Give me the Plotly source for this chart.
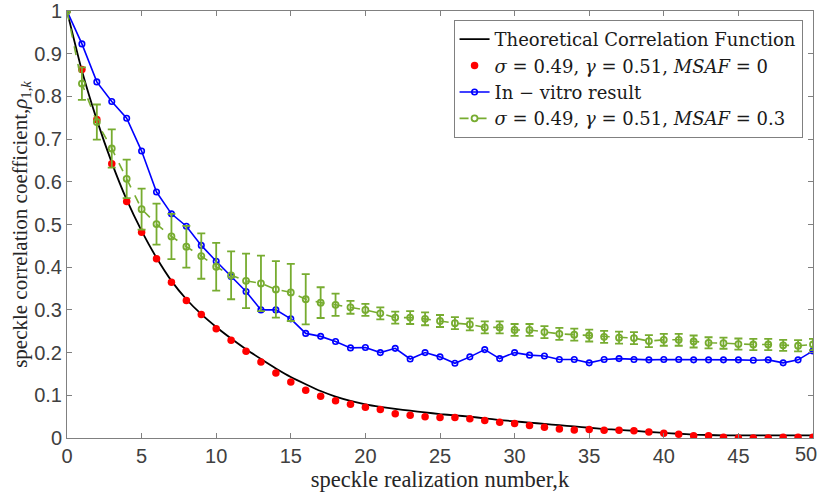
import plotly.graph_objects as go

k = list(range(51))

theory = [1.0, 0.86, 0.745, 0.645, 0.558, 0.485, 0.422, 0.368, 0.325, 0.29,
          0.26, 0.233, 0.208, 0.185, 0.163, 0.143, 0.126, 0.11, 0.097, 0.087,
          0.079, 0.073, 0.068, 0.064, 0.06, 0.056, 0.053, 0.05, 0.046, 0.042,
          0.039, 0.036, 0.033, 0.03, 0.027, 0.024, 0.021, 0.019, 0.017, 0.014,
          0.012, 0.01, 0.008, 0.007, 0.006, 0.006, 0.006, 0.006, 0.006, 0.006,
          0.006]

sim_msaf0 = [1.0, 0.863, 0.746, 0.642, 0.554, 0.482, 0.42, 0.365, 0.322, 0.289,
             0.256, 0.229, 0.203, 0.178, 0.152, 0.131, 0.112, 0.098, 0.087, 0.079,
             0.072, 0.067, 0.057, 0.053, 0.05, 0.048, 0.048, 0.045, 0.041, 0.037,
             0.034, 0.029, 0.025, 0.021, 0.019, 0.02, 0.018, 0.018, 0.017, 0.014,
             0.011, 0.009, 0.005, 0.005, 0.002, 0.0, 0.0, 0.0, 0.002, 0.002,
             0.002]

in_vitro = [1.0, 0.923, 0.834, 0.788, 0.749, 0.672, 0.576, 0.525, 0.496, 0.451,
            0.414, 0.378, 0.343, 0.30, 0.30, 0.279, 0.245, 0.238, 0.226, 0.211,
            0.212, 0.2, 0.21, 0.185, 0.2, 0.19, 0.175, 0.19, 0.207, 0.186,
            0.2, 0.194, 0.192, 0.184, 0.184, 0.176, 0.184, 0.186, 0.184, 0.183,
            0.184, 0.184, 0.183, 0.183, 0.183, 0.183, 0.182, 0.183, 0.176, 0.183,
            0.204]

sim_msaf03 = [1.0, 0.83, 0.74, 0.678, 0.607, 0.536, 0.501, 0.472, 0.448, 0.426,
              0.401, 0.381, 0.368, 0.362, 0.348, 0.341, 0.325, 0.317, 0.312, 0.306,
              0.30, 0.292, 0.282, 0.282, 0.279, 0.274, 0.269, 0.266, 0.259, 0.259,
              0.253, 0.253, 0.248, 0.244, 0.242, 0.24, 0.237, 0.235, 0.234, 0.227,
              0.23, 0.23, 0.226, 0.223, 0.222, 0.22, 0.219, 0.219, 0.217, 0.216,
              0.219]

sim_msaf03_err = [0.0, 0.038, 0.041, 0.045, 0.045, 0.048, 0.048, 0.053, 0.049, 0.053,
                  0.056, 0.056, 0.064, 0.065, 0.066, 0.067, 0.059, 0.036, 0.026, 0.015,
                  0.014, 0.014, 0.014, 0.015, 0.015, 0.014, 0.014, 0.014, 0.014, 0.014,
                  0.014, 0.014, 0.014, 0.014, 0.014, 0.014, 0.014, 0.014, 0.014, 0.014,
                  0.014, 0.014, 0.014, 0.013, 0.013, 0.013, 0.013, 0.013, 0.013, 0.013,
                  0.013]

x_ticks = [0, 5, 10, 15, 20, 25, 30, 35, 40, 45, 50]
x_tick_text = ["0", "5", "10", "15", "20", "25", "30", "35", "40", "45", "50"]
y_ticks = [0, 0.1, 0.2, 0.3, 0.4, 0.5, 0.6, 0.7, 0.8, 0.9, 1]
y_tick_text = ["0", "0.1", "0.2", "0.3", "0.4", "0.5", "0.6", "0.7", "0.8", "0.9", "1"]

names = [
    "Theoretical Correlation Function",
    "<i>σ</i> = 0.49, <i>γ</i> = 0.51, <i>MSAF</i> = 0",
    "In − vitro result",
    "<i>σ</i> = 0.49, <i>γ</i> = 0.51, <i>MSAF</i> = 0.3",
]

GREEN = "#77AC30"
SERIF = "Liberation Serif"
LEG_SERIF = "DejaVu Serif"
SANS = "Liberation Sans"
TICKFONT = dict(family=SANS, size=20, color="#404040")

fig = go.Figure()
fig.add_trace(go.Scatter(x=k, y=theory, mode="lines", name=names[0],
                         line=dict(color="black", width=1.8, shape="spline", smoothing=0.6)))
fig.add_trace(go.Scatter(x=k, y=sim_msaf0, mode="markers", name=names[1],
                         marker=dict(color="#FF0000", size=7.5)))
fig.add_trace(go.Scatter(x=k, y=in_vitro, mode="lines+markers", name=names[2],
                         line=dict(color="#0000FF", width=1.6),
                         marker=dict(symbol="circle-open", color="#0000FF", size=5.5,
                                     line=dict(width=1.6, color="#0000FF"))))
fig.add_trace(go.Scatter(x=k, y=sim_msaf03, mode="lines+markers", name=names[3],
                         line=dict(color=GREEN, width=1.6, dash="dash"),
                         marker=dict(symbol="circle-open", color=GREEN, size=6,
                                     line=dict(width=1.8, color=GREEN)),
                         error_y=dict(type="data", array=sim_msaf03_err, visible=True,
                                      color=GREEN, thickness=1.8, width=4)))

axis_common = dict(
    showline=True, linecolor="#808080", linewidth=1, mirror="ticks",
    ticks="inside", ticklen=5, tickcolor="#808080", tickwidth=1,
    showgrid=False, zeroline=False,
    tickfont=TICKFONT,
)

# last x tick label is placed as an annotation so it stays inside the page
x_text_axis = x_tick_text[:-1] + [""]

fig.update_xaxes(range=[0, 50], tickvals=x_ticks, ticktext=x_text_axis,
                 title=dict(text="speckle realization number,k",
                            font=dict(family=SERIF, size=22.5, color="#262626"), standoff=3),
                 **axis_common)
fig.update_yaxes(range=[0, 1], tickvals=y_ticks, ticktext=y_tick_text,
                 title=dict(text="speckle correlation coefficient,<i>ρ</i><sub>1,<i>k</i></sub>",
                            font=dict(family=SERIF, size=21, color="#262626"), standoff=0),
                 **axis_common)

fig.add_annotation(text=x_tick_text[-1], xref="paper", yref="paper",
                   x=(819 - 67) / 746, y=0, xanchor="right", yanchor="top",
                   yshift=-3, showarrow=False, font=TICKFONT)

fig.update_layout(
    width=820, height=492,
    margin=dict(l=67, r=7, t=11, b=54, autoexpand=False),
    plot_bgcolor="white", paper_bgcolor="white",
    legend=dict(x=0.986, y=0.979, xanchor="right", yanchor="top",
                bgcolor="white", bordercolor="#808080", borderwidth=1,
                font=dict(family=LEG_SERIF, size=18, color="#1a1a1a"),
                tracegroupgap=0, itemwidth=30),
    showlegend=True,
)

fig.write_html("out.html")
